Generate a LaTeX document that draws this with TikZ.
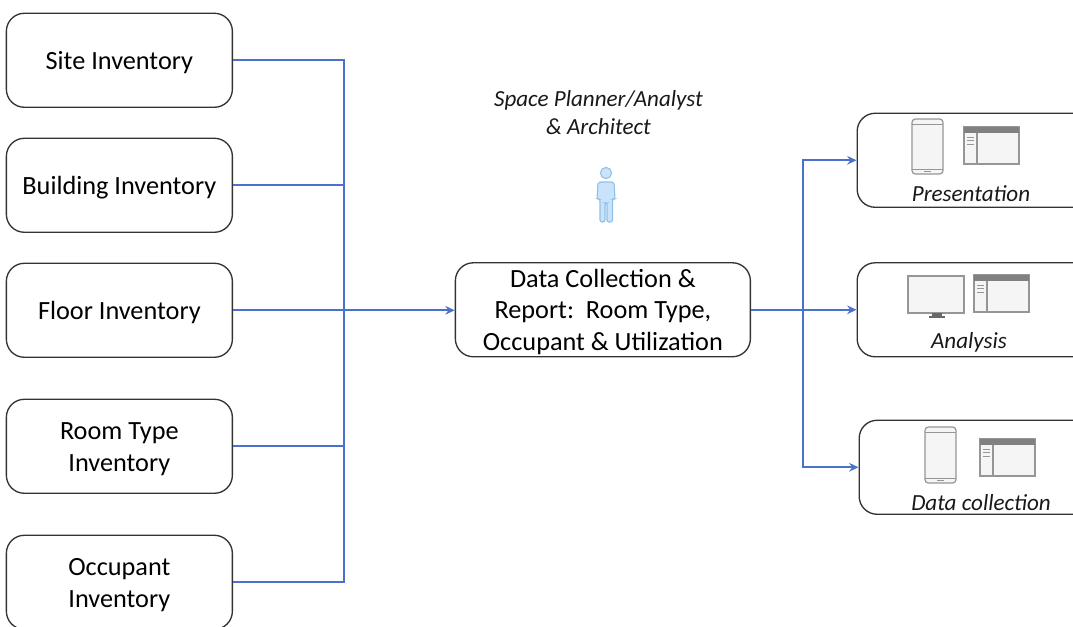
\documentclass[tikz,border=0pt]{standalone}
\usepackage{fontspec}
\setmainfont{Carlito}
\usetikzlibrary{arrows.meta}
\definecolor{linkblue}{HTML}{4A72CC}
\definecolor{boxline}{HTML}{333333}
\definecolor{icongrey}{HTML}{969696}
\definecolor{iconfill}{HTML}{F5F5F5}
\definecolor{personline}{HTML}{8FC0EA}
\definecolor{personfill}{HTML}{C9E4FA}
\tikzset{
  x=0.75pt,y=-0.75pt,
  card/.style={draw=boxline,line width=1pt,rounded corners=13.5pt,fill=white,inner sep=0pt,anchor=north west,align=center,font=\fontsize{19.7}{23.3}\selectfont},
  texttop/.style={execute at begin node={\rule{0pt}{#1}}},
  link/.style={draw=linkblue,line width=1.5pt},
  linkarrow/.style={link,-{Stealth[length=7pt,width=6.5pt]}},
  caption/.style={font=\fontsize{17.3}{20}\itshape\selectfont,text=black!90,inner sep=0pt},
  iconpart/.style={draw=icongrey,fill=iconfill,line width=0.9pt},
  iconbar/.style={fill=icongrey!85!black,draw=none}
}
\newcommand{\phoneicon}[3]{% left, top, height
  \draw[iconpart,rounded corners=2.5pt] (#1,#2) rectangle ++(31,#3);
  \draw[icongrey,line width=0.6pt] (#1,#2+5) -- ++(31,0) (#1,#2+#3-5) -- ++(31,0);
  \draw[icongrey,line width=0.8pt] (#1+12,#2+#3-2.5) -- ++(7,0);
}
\newcommand{\winicon}[2]{% left, top
  \draw[iconpart] (#1,#2) rectangle ++(55,37);
  \fill[iconbar] (#1,#2) rectangle ++(55,6);
  \draw[icongrey,line width=0.9pt] (#1+13,#2+6) -- ++(0,31);
  \draw[icongrey,line width=0.6pt] (#1+3,#2+10) -- ++(7,0) (#1+3,#2+13.5) -- ++(7,0) (#1+3,#2+17) -- ++(7,0);
}
\begin{document}
\begin{tikzpicture}
\useasboundingbox (0,0) rectangle (1073,626);
\clip (0,0) rectangle (1073,626);
\fill[white] (0,0) rectangle (1073,626);
% left cards
\node[card,texttop=17pt,minimum width=169.5pt,minimum height=70.5pt] (site) at (5.7,12.6) {Site Inventory};
\node[card,texttop=17pt,minimum width=169.5pt,minimum height=70.5pt] (building) at (5.7,137.6) {Building Inventory};
\node[card,texttop=17pt,minimum width=169.5pt,minimum height=70.5pt] (floor) at (5.7,262.6) {Floor Inventory};
\node[card,texttop=40.3pt,minimum width=169.5pt,minimum height=70.5pt] (room) at (5.7,398.6) {Room Type\\Inventory};
\node[card,texttop=40.3pt,minimum width=169.5pt,minimum height=70.5pt] (occupant) at (5.7,534.6) {Occupant\\Inventory};
% centre card
\node[card,texttop=63.6pt,minimum width=221.25pt,minimum height=70.5pt] (report) at (454.7,262.1) {Data Collection \&\\Report:\ \ Room Type,\\Occupant \& Utilization};
% right cards
\node[card,minimum width=180pt,minimum height=70.5pt] (present) at (856.5,112.6) {};
\node[card,minimum width=180pt,minimum height=70.5pt] (analysis) at (856.5,262.1) {};
\node[card,minimum width=180pt,minimum height=70.5pt] (collect) at (858.5,419.6) {};
% bus and connectors
\coordinate (busx) at (344,0);
\coordinate (forkx) at (803,0);
\coordinate (bustop) at (busx |- site.east);
\coordinate (busbottom) at (busx |- occupant.east);
\coordinate (fork) at (forkx |- report.east);
\draw[link] (site.east) -- (bustop) -- (busbottom) -- (occupant.east);
\draw[link] (building.east) -- (busx |- building.east);
\draw[link] (room.east) -- (busx |- room.east);
\draw[linkarrow] (floor.east) -- (floor.east -| report.west);
\draw[link] (report.east) -- (fork);
\draw[linkarrow] (fork) -- (analysis.west);
\draw[linkarrow] (fork) |- (present.west);
\draw[linkarrow] (fork) |- (collect.west);
% header label
\node[caption,align=center,font=\fontsize{17.3}{21}\itshape\selectfont] (role) at (598.5,113) {Space Planner/Analyst\\\& Architect};
% person
\draw[draw=personline,fill=personfill,line width=0.8pt] (606,173) circle (4.2pt);
\draw[draw=personline,fill=personfill,line width=0.8pt,rounded corners=1.5pt]
  (598,182) -- (614,182) -- (615,199) -- (612.5,199) -- (612.5,222) -- (607,222) -- (607,203) -- (605,203) -- (605,222) -- (600,222) -- (600,199) -- (597,199) -- cycle;
% icons: presentation
\phoneicon{912}{119}{55}
\winicon{964}{127}
\node[caption] (presentcap) at (971,194) {Presentation};
% icons: analysis
\draw[iconpart] (908,276) rectangle ++(56,37);
\fill[icongrey!70!black] (932,313) rectangle ++(10,3.5);
\draw[icongrey!70!black,line width=1pt] (929,317) -- ++(16,0);
\winicon{974}{275}
\node[caption] (analysiscap) at (969,342) {Analysis};
% icons: data collection
\phoneicon{925}{427}{56}
\winicon{980}{439}
\node[caption] (collectcap) at (981,503) {Data collection};
\end{tikzpicture}
\end{document}
